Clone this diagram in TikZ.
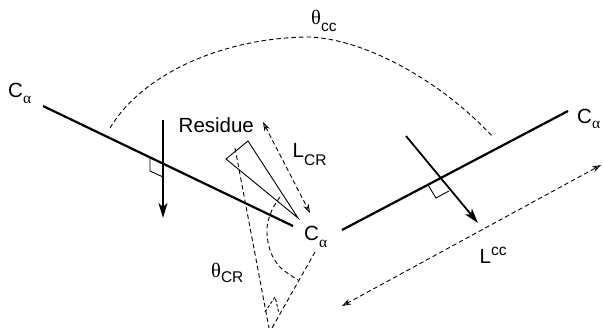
\documentclass[tikz,border=0pt]{standalone}
\usepackage{fontspec}
\setmainfont{Liberation Sans}
\newfontfamily\grk{Liberation Serif}
\usetikzlibrary{arrows.meta}
\newcommand{\lowtxt}[2]{\raisebox{-#1}{\fontsize{15.5}{15.5}\selectfont #2}}
\newcommand{\hightxt}[2]{\raisebox{#1}{\fontsize{15.5}{15.5}\selectfont #2}}
\begin{document}
\begin{tikzpicture}[x=1pt,y=-1pt,
  lbl/.style={anchor=base west,inner sep=0pt,font=\fontsize{20.5}{24}\selectfont},
  bond/.style={line width=2.2pt},
  perp/.style={line width=1.8pt,-{Stealth[length=15pt,width=9pt,inset=4pt]}},
  thinline/.style={line width=0.9pt},
  dashline/.style={line width=0.9pt,dash pattern=on 4.5pt off 3pt},
  dimarrow/.style={dashline,{Stealth[open,length=9pt,width=6pt]}-{Stealth[open,length=9pt,width=6pt]}},
]
\useasboundingbox (0,0) rectangle (604,329);

% coordinates
\coordinate (a1) at (43,106);
\coordinate (a2) at (293,226);
\coordinate (b1) at (342,230);
\coordinate (b2) at (568,111);
\coordinate (p1s) at (163,120);
\coordinate (p1e) at (163,218);
\coordinate (p2s) at (406,136);
\coordinate (p2e) at (478,223);
\coordinate (r1) at (226,159);
\coordinate (r2) at (248,141);
\coordinate (r3) at (298,218);
\coordinate (lcr1) at (263,122);
\coordinate (lcr2) at (310,213);
\coordinate (lcc1) at (342,306);
\coordinate (lcc2) at (601,165);
\coordinate (ta) at (235,148);
\coordinate (tb) at (315,252);
\coordinate (apexa) at (269,328);
\coordinate (apexb) at (272,328);
\coordinate (cc1) at (110,128);
\coordinate (cctop) at (310,37);
\coordinate (cc2) at (493,137);

% main bonds
\draw[bond] (a1) -- (a2);
\draw[bond] (b1) -- (b2);

% perpendicular arrows
\draw[perp] (p1s) -- (p1e);
\draw[perp] (p2s) -- (p2e);

% right angle marks
\draw[thinline] (150,158) -- (150,171) -- (163,177);
\draw[thinline] (428,185) -- (436,198) -- (449,191);

% residue triangle
\draw[thinline,line join=miter] (r1) -- (r2) -- (r3) -- cycle;

% theta_cc arc
\draw[dashline] (cc1) .. controls (145,70) and (230,37) .. (cctop)
                      .. controls (370,40) and (445,85) .. (cc2);

% length arrows
\draw[dimarrow] (lcr1) -- (lcr2);
\draw[dimarrow] (lcc1) -- (lcc2);

% theta_CR construction
\draw[dashline] (ta) -- (apexa);
\draw[dashline] (tb) -- (apexb);
\draw[dashline] plot[smooth,tension=0.6] coordinates {(280,197) (272,210) (267,228) (270,250) (280,267) (298,280)};
\draw[thinline,dash pattern=on 3pt off 2pt] (265,312) -- (275,297) -- (279,313);

% labels
\node[lbl] (ca1) at (8,97) {C\lowtxt{6pt}{\grk α}};
\node[lbl] (ca2) at (577,123) {C\lowtxt{5pt}{\grk α}};
\node[lbl] (ca3) at (304,240) {C\lowtxt{7pt}{\grk α}};
\node[lbl] (res) at (178.5,132) {Residue};
\node[lbl] (tcc) at (311,25) {{\grk θ}\lowtxt{7pt}{cc}};
\node[lbl] (lcr) at (292.5,157) {L\lowtxt{8pt}{CR}};
\node[lbl] (lcc) at (479.5,263) {L\hightxt{8pt}{cc}};
\node[lbl] (tcr) at (211,277) {{\grk θ}\lowtxt{5pt}{CR}};
\end{tikzpicture}
\end{document}
